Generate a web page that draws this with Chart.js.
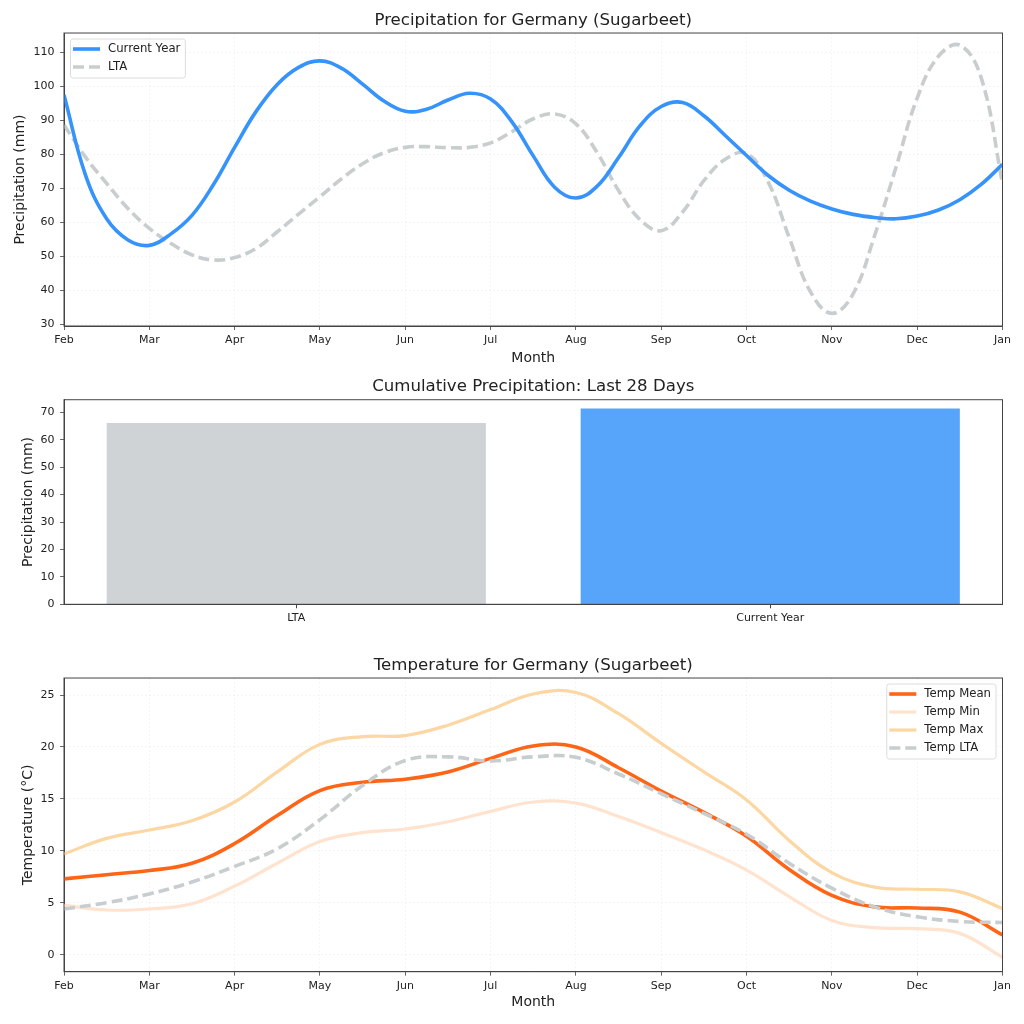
<!DOCTYPE html>
<html>
<head>
<meta charset="utf-8">
<title>Germany (Sugarbeet)</title>
<script src="https://cdn.jsdelivr.net/npm/chart.js@4/dist/chart.umd.js"></script>
<style>
  html, body { margin: 0; padding: 0; background: #fff; }
  body { width: 1024px; height: 1024px; position: relative; overflow: hidden; }
  canvas { position: absolute; left: 0; }
</style>
</head>
<body>
<canvas id="precipChart" width="1024" height="370" style="top:0"></canvas>
<canvas id="cumulChart" width="1024" height="270" style="top:370px"></canvas>
<canvas id="tempChart" width="1024" height="384" style="top:640px"></canvas>
<script>
const months = ['Feb', 'Mar', 'Apr', 'May', 'Jun', 'Jul', 'Aug', 'Sep', 'Oct', 'Nov', 'Dec', 'Jan'];

// Precipitation, read every quarter of a month
const precipCurrent = [
  97.4, 74, 61, 54.8, 53.2, 56.5, 62, 71, 82, 92.5, 100.5, 105.5,
  107.4, 105.3, 100.6, 95.6, 92.6, 93.2, 95.9, 97.9, 96.2, 89.5, 79.5, 70.3,
  67.1, 70.6, 79, 88.3, 94, 95.2, 91.3, 85.5, 79.6, 73.8, 69.4, 66.2,
  63.9, 62.3, 61.4, 61, 61.8, 63.6, 66.6, 71.1, 77
];
const precipLta = [
  88.6, 79.2, 71.4, 64, 58.2, 53.8, 50.4, 48.9, 49.6, 52.3, 57.2, 62.4,
  67.5, 72.7, 77.2, 80.4, 82, 82.2, 81.9, 82, 83.3, 86.6, 90.4, 91.8,
  88.9, 80.4, 69.3, 60.8, 57.5, 63, 72.2, 78.5, 80.2, 72, 55.5, 39.5,
  33.2, 39, 56, 76, 96.5, 108.8, 112, 102.5, 71.4
];
const precipTicks = [30, 40, 50, 60, 70, 80, 90, 100, 110];

// Last 28 days
const cumulLabels = ['LTA', 'Current Year'];
const cumulValues = [66.1, 71.4];
const cumulTicks = [0, 10, 20, 30, 40, 50, 60, 70];

// Temperature, read every half month
const tempMean = [7.3, 7.7, 8.1, 8.8, 10.7, 13.4, 15.8, 16.6, 16.9, 17.6, 18.9, 20.1, 20, 18, 15.75, 13.7, 11.4, 8.2, 5.7, 4.6, 4.5, 4.1, 1.9];
const tempMin = [4.75, 4.3, 4.4, 4.9, 6.6, 8.8, 10.9, 11.75, 12.1, 12.8, 13.8, 14.7, 14.6, 13.3, 11.75, 10.1, 8.15, 5.6, 3.3, 2.6, 2.5, 2.05, -0.25];
const tempMax = [9.7, 11.2, 12, 12.9, 14.7, 17.6, 20.25, 21, 21.1, 22.1, 23.6, 25.1, 25.25, 23.2, 20.35, 17.6, 14.9, 11, 7.9, 6.5, 6.3, 6.05, 4.45];
const tempLta = [4.4, 5, 5.85, 7, 8.5, 10.2, 13, 16.3, 18.7, 19.05, 18.65, 19.05, 19, 17.4, 15.5, 13.6, 11.6, 8.8, 6.4, 4.6, 3.65, 3.2, 3.1];
const tempTicks = [0, 5, 10, 15, 20, 25];

const FONT = '"DejaVu Sans", sans-serif';
const INK = '#222';
const SPINE = '#444';
const GREY_LINE = '#c8cdcf';
const GRID = 'rgba(0,0,0,0.05)';

Chart.defaults.font.family = FONT;
Chart.defaults.color = INK;
Chart.defaults.animation = false;

// Box around the whole plot area, Chart.js only draws the axis sides
const framePlugin = {
  id: 'frame',
  afterDraw(chart) {
    const { ctx, chartArea: a } = chart;
    ctx.save();
    ctx.strokeStyle = SPINE;
    ctx.lineWidth = 1;
    ctx.strokeRect(a.left, a.top, a.right - a.left, a.bottom - a.top);
    ctx.restore();
  }
};

// Boxed legend inside the plot, rows come from the datasets
const boxLegendPlugin = {
  id: 'boxLegend',
  afterDraw(chart, args, opts) {
    if (!opts.corner) return;
    const { ctx, chartArea: a } = chart;
    const sets = chart.data.datasets;
    ctx.save();
    ctx.font = '11.7px ' + FONT;
    const textW = Math.max(...sets.map(d => ctx.measureText(d.label).width));
    const w = 37.5 + textW + 5;
    const h = sets.length * 18 + 3;
    const x = opts.corner === 'left' ? a.left + 6.5 : a.right - 6.5 - w;
    const y = a.top + 6;
    ctx.beginPath();
    ctx.roundRect(x, y, w, h, 2.5);
    ctx.fillStyle = 'rgba(255,255,255,0.8)';
    ctx.fill();
    ctx.strokeStyle = '#dcdcdc';
    ctx.lineWidth = 1;
    ctx.stroke();
    ctx.textBaseline = 'middle';
    ctx.textAlign = 'left';
    sets.forEach((d, i) => {
      const rowY = y + 10 + i * 18;
      ctx.beginPath();
      ctx.setLineDash(d.borderDash || []);
      ctx.strokeStyle = d.borderColor;
      ctx.lineWidth = d.borderWidth;
      ctx.moveTo(x + 2.5, rowY);
      ctx.lineTo(x + 29.5, rowY);
      ctx.stroke();
      ctx.setLineDash([]);
      ctx.fillStyle = INK;
      ctx.fillText(d.label, x + 37.5, rowY);
    });
    ctx.restore();
  }
};

const whole = (values, step) => values.map((y, i) => ({ x: i * step, y: y }));

const lineSet = (label, data, color, width, dash, order) => ({
  label: label,
  data: data,
  borderColor: color,
  borderWidth: width,
  borderDash: dash,
  order: order,
  tension: 0.4,
  pointRadius: 0,
  fill: false
});

const yAxis = (title, ticks, min, max, titlePad, showGrid) => ({
  type: 'linear',
  min: min,
  max: max,
  afterFit: s => { s.width = 64; },
  afterBuildTicks: s => { s.ticks = ticks.map(v => ({ value: v })); },
  title: { display: true, text: title, font: { size: 14 }, color: INK, padding: { top: titlePad, bottom: 0 } },
  ticks: { font: { size: 11 }, color: INK, padding: 5.5 },
  grid: { drawOnChartArea: showGrid, color: GRID, tickColor: SPINE, tickLength: 4, lineWidth: 0.8 },
  border: { color: SPINE, dash: [2, 2] }
});

const monthAxis = (height, titlePad) => ({
  type: 'linear',
  min: 0,
  max: months.length - 1,
  afterFit: s => { s.height = height; },
  afterBuildTicks: s => { s.ticks = months.map((m, i) => ({ value: i })); },
  title: { display: true, text: 'Month', font: { size: 14 }, color: INK, padding: { top: 0, bottom: titlePad } },
  ticks: { font: { size: 11 }, color: INK, padding: 3.5, maxRotation: 0, autoSkip: false, callback: v => months[v] },
  grid: { color: GRID, tickColor: SPINE, tickLength: 4, lineWidth: 0.8 },
  border: { color: SPINE, dash: [2, 2] }
});

const titleOpts = (text, top, bottom) => ({
  display: true,
  text: text,
  fullSize: false,
  color: INK,
  font: { size: 16.6, weight: 'normal' },
  padding: { top: top, bottom: bottom }
});

// Precipitation chart
new Chart(document.getElementById('precipChart').getContext('2d'), {
  type: 'line',
  data: {
    datasets: [
      lineSet('Current Year', whole(precipCurrent, 0.25), '#3593fb', 3.6, [], 1),
      lineSet('LTA', whole(precipLta, 0.25), GREY_LINE, 3.6, [11, 5], 2)
    ]
  },
  options: {
    responsive: false,
    layout: { padding: { right: 21.5 } },
    scales: {
      x: monthAxis(44, 3.6),
      y: yAxis('Precipitation (mm)', precipTicks, 29.5, 115.6, 12, true)
    },
    plugins: {
      legend: { display: false },
      tooltip: { enabled: false },
      title: titleOpts('Precipitation for Germany (Sugarbeet)', 10.5, 2.6),
      boxLegend: { corner: 'left' }
    }
  },
  plugins: [framePlugin, boxLegendPlugin]
});

// Cumulative precipitation chart
new Chart(document.getElementById('cumulChart').getContext('2d'), {
  type: 'bar',
  data: {
    datasets: [{
      label: 'Precipitation',
      data: whole(cumulValues, 1),
      backgroundColor: ['#cfd3d6', '#57a5fb'],
      borderWidth: 0,
      barPercentage: 0.8,
      categoryPercentage: 1
    }]
  },
  options: {
    responsive: false,
    layout: { padding: { right: 21.5 } },
    scales: {
      x: {
        type: 'linear',
        offset: false,
        min: -0.49,
        max: 1.49,
        afterFit: s => { s.height = 35.7; },
        afterBuildTicks: s => { s.ticks = cumulLabels.map((c, i) => ({ value: i })); },
        ticks: { font: { size: 11 }, color: INK, padding: 3.5, maxRotation: 0, autoSkip: false, callback: v => cumulLabels[v] },
        grid: { display: true, offset: false, drawOnChartArea: false, tickColor: SPINE, tickLength: 4 },
        border: { color: SPINE }
      },
      y: yAxis('Precipitation (mm)', cumulTicks, 0, 74.6, 20, false)
    },
    plugins: {
      legend: { display: false },
      tooltip: { enabled: false },
      title: titleOpts('Cumulative Precipitation: Last 28 Days', 6.5, 3.3)
    }
  },
  plugins: [framePlugin]
});

// Temperature chart
new Chart(document.getElementById('tempChart').getContext('2d'), {
  type: 'line',
  data: {
    datasets: [
      lineSet('Temp Mean', whole(tempMean, 0.5), '#ff6516', 3.6, [], 4),
      lineSet('Temp Min', whole(tempMin, 0.5), '#ffe3ce', 3.2, [], 3),
      lineSet('Temp Max', whole(tempMax, 0.5), '#fcd7a4', 3.2, [], 2),
      lineSet('Temp LTA', whole(tempLta, 0.5), GREY_LINE, 3.6, [11, 5], 1)
    ]
  },
  options: {
    responsive: false,
    layout: { padding: { right: 21.5 } },
    scales: {
      x: monthAxis(52.3, 13),
      y: yAxis('Temperature (\u00B0C)', tempTicks, -1.64, 26.64, 20, true)
    },
    plugins: {
      legend: { display: false },
      tooltip: { enabled: false },
      title: titleOpts('Temperature for Germany (Sugarbeet)', 15.5, 2.6),
      boxLegend: { corner: 'right' }
    }
  },
  plugins: [framePlugin, boxLegendPlugin]
});
</script>
</body>
</html>
